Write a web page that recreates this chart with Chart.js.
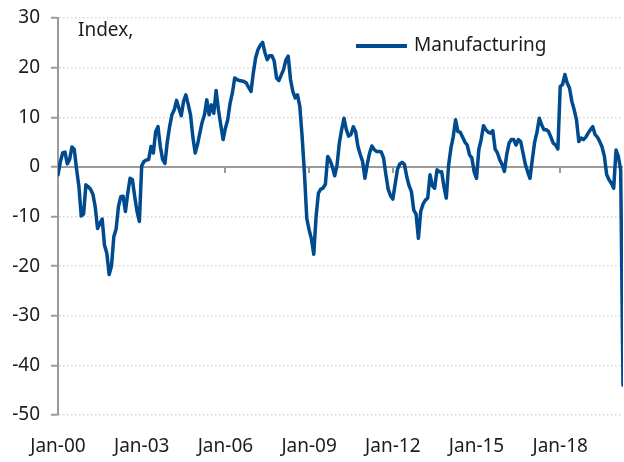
<!DOCTYPE html>
<html>
<head>
<meta charset="utf-8">
<script src="https://cdn.jsdelivr.net/npm/chart.js@4.4.0/dist/chart.umd.min.js"></script>
<style>
  html, body { margin: 0; padding: 0; background: #fff; }
  #wrap { width: 624px; height: 462px; }
</style>
</head>
<body>
<div id="wrap"><canvas id="grafico"></canvas></div>
<script>
// Datos (mensual, Jan-2000 .. Apr-2020)
const seriesName = 'Manufacturing';
const yTitle = 'Index,';
const tickLabels = ['Jan-00', 'Jan-03', 'Jan-06', 'Jan-09', 'Jan-12', 'Jan-15', 'Jan-18'];
const tickStep = 36; // meses entre etiquetas
const yTicks = [-50, -40, -30, -20, -10, 0, 10, 20, 30];

const manufacturing = [
  -1.6, 1.0, 2.8, 3.0, 0.6, 1.5, 4.0, 3.5, -0.5, -4.0, -9.9, -9.5,
  -3.6, -4.0, -4.5, -5.5, -8.0, -12.4, -11.4, -10.5, -15.8, -17.4, -21.7, -20.0,
  -14.1, -12.5, -8.0, -6.0, -5.9, -9.0, -5.3, -2.3, -2.6, -6.0, -9.0, -11.0,
  0.2, 1.1, 1.4, 1.5, 4.1, 2.8, 7.1, 8.1, 4.1, 1.5, 0.7, 5.0,
  8.1, 10.5, 11.5, 13.4, 11.8, 10.3, 13.2, 14.5, 12.6, 10.5, 6.0, 2.8,
  4.5, 6.8, 9.0, 10.5, 13.5, 10.5, 12.5, 10.8, 15.4, 11.5, 8.5, 5.5,
  7.8, 9.5, 12.8, 14.9, 17.9, 17.6, 17.4, 17.3, 17.2, 16.9, 16.0, 15.2,
  18.9, 22.0, 23.6, 24.5, 25.1, 23.0, 21.6, 22.4, 22.4, 21.3, 17.9, 17.4,
  18.5, 19.6, 21.5, 22.3, 17.6, 15.2, 13.9, 14.5, 12.2, 6.1, -1.3, -10.4,
  -12.7, -14.5, -17.6, -10.0, -5.3, -4.5, -4.3, -3.5, 2.1, 1.3, 0.0, -1.8,
  0.3, 4.8, 7.5, 9.8, 7.5, 6.2, 6.5, 8.1, 7.1, 4.1, 2.5, 1.1,
  -2.3, 0.5, 2.8, 4.2, 3.5, 3.1, 3.1, 3.0, 1.8, -1.5, -4.5, -5.8,
  -6.5, -3.5, -0.5, 0.6, 0.9, 0.5, -2.0, -3.8, -5.0, -8.7, -9.5, -14.4,
  -9.0, -7.5, -6.7, -6.3, -1.6, -3.8, -4.3, -0.6, -1.0, -1.0, -4.0, -6.3,
  0.4, 3.8, 6.1, 9.5, 7.1, 7.0, 6.0, 5.0, 4.4, 2.4, 1.8, -1.0,
  -2.3, 3.5, 5.5, 8.3, 7.5, 7.0, 6.8, 7.3, 3.6, 2.8, 1.4, 0.5,
  -0.9, 2.5, 4.8, 5.5, 5.5, 4.4, 5.5, 5.1, 2.8, 0.5, -1.0, -2.3,
  1.5, 5.0, 7.0, 9.8, 8.5, 7.5, 7.5, 7.1, 6.0, 4.8, 4.4, 3.6,
  16.2, 16.6, 18.6, 16.9, 15.9, 13.2, 11.5, 9.5, 5.1, 5.8, 5.5, 6.0,
  6.8, 7.5, 8.1, 6.5, 6.0, 5.1, 4.0, 2.1, -1.6, -2.6, -3.3, -4.3,
  3.4, 2.1, -0.6, -44.0
];

const azul = '#004a8f';
const texto = '#1c1c1c';
const gris = '#9b9b9b';
const fuente = "'Noto Sans', sans-serif";

// Linea del cero, marcas del eje x, titulo y leyenda
const extras = {
  id: 'extras',
  beforeDatasetsDraw(chart) {
    const { ctx, chartArea, scales } = chart;
    const y0 = scales.y.getPixelForValue(0);
    ctx.save();
    ctx.strokeStyle = gris;
    ctx.lineWidth = 2;
    ctx.beginPath();
    ctx.moveTo(chartArea.left, y0);
    ctx.lineTo(chartArea.right, y0);
    scales.x.ticks.forEach(t => {
      const x = Math.round(scales.x.getPixelForValue(t.value));
      ctx.moveTo(x, y0);
      ctx.lineTo(x, y0 + 6);
    });
    ctx.stroke();
    ctx.restore();
  },
  afterDraw(chart) {
    const { ctx } = chart;
    ctx.save();
    ctx.fillStyle = texto;
    ctx.font = '19px ' + fuente;
    ctx.textBaseline = 'middle';
    ctx.textAlign = 'left';
    ctx.fillText(yTitle, 78, 31);

    ctx.strokeStyle = azul;
    ctx.lineWidth = 4;
    ctx.beginPath();
    ctx.moveTo(356, 46);
    ctx.lineTo(407, 46);
    ctx.stroke();
    ctx.fillText(seriesName, 414, 46);
    ctx.restore();
  }
};

const ctx = document.getElementById('grafico').getContext('2d');

const miGrafico = new Chart(ctx, {
  type: 'line',
  data: {
    datasets: [{
      label: seriesName,
      data: manufacturing.map((v, i) => ({ x: i, y: v })),
      borderColor: azul,
      borderWidth: 3.5,
      pointRadius: 0,
      tension: 0,
      borderJoinStyle: 'round',
      borderCapStyle: 'round'
    }]
  },
  options: {
    responsive: true,
    maintainAspectRatio: false,
    animation: false,
    layout: { padding: { top: 18, right: 1, left: 0, bottom: 0 } },
    plugins: {
      legend: { display: false },
      tooltip: { enabled: false }
    },
    scales: {
      x: {
        type: 'linear',
        min: 0,
        max: manufacturing.length - 1,
        afterBuildTicks: scale => {
          scale.ticks = tickLabels.map((_, i) => ({ value: i * tickStep }));
        },
        afterFit: scale => { scale.height = 47; },
        grid: { display: false, drawTicks: false },
        border: { display: false },
        ticks: {
          color: texto,
          font: { family: fuente, size: 19 },
          padding: 20,
          maxRotation: 0,
          callback: v => tickLabels[Math.round(v / tickStep)]
        }
      },
      y: {
        min: yTicks[0],
        max: yTicks[yTicks.length - 1],
        afterBuildTicks: scale => {
          scale.ticks = yTicks.map(v => ({ value: v }));
        },
        afterFit: scale => {
          scale.width = 58;
          scale.paddingTop = 0;
          scale.paddingBottom = 0;
        },
        grid: {
          color: '#d6d6d6',
          lineWidth: 1.5,
          drawTicks: true,
          tickLength: 7,
          tickColor: gris,
          tickWidth: 2,
          tickBorderDash: []
        },
        border: { display: true, color: gris, width: 2, dash: [1.5, 2.5] },
        ticks: {
          color: texto,
          font: { family: fuente, size: 19 },
          padding: 11
        }
      }
    }
  },
  plugins: [extras]
});
</script>
</body>
</html>
